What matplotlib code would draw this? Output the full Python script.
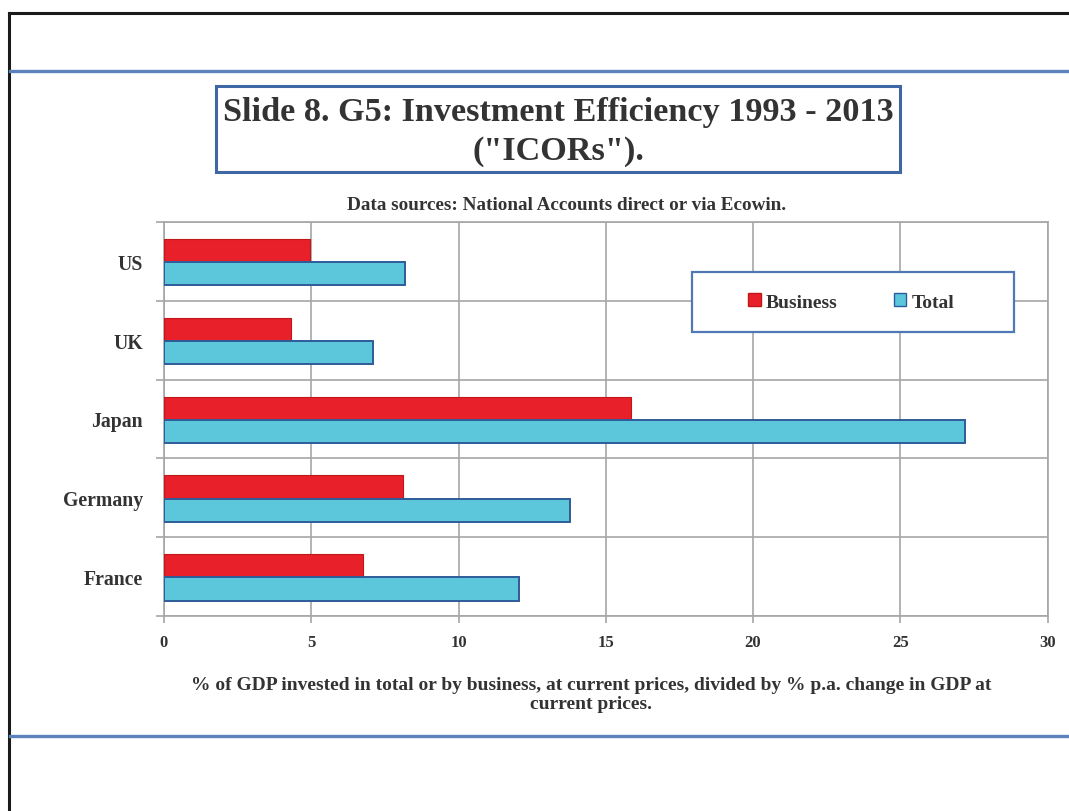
import matplotlib
matplotlib.use("Agg")
import matplotlib.pyplot as plt
from matplotlib.lines import Line2D
from matplotlib.patches import Rectangle, Patch
import numpy as np

# ICORs by country, 1993-2013
countries = ["US", "UK", "Japan", "Germany", "France"]
business = [4.95, 4.3, 15.85, 8.1, 6.75]
total = [8.2, 7.08, 27.2, 13.8, 12.05]
x_ticks = [0, 5, 10, 15, 20, 25, 30]

title_text = 'Slide 8. G5: Investment Efficiency 1993 - 2013\n("ICORs").'
source_text = "Data sources: National Accounts direct or via Ecowin."
xlabel_text = ("% of GDP invested in total or by business, at current prices, "
               "divided by % p.a. change in GDP at\ncurrent prices.")

W, H = 1069, 812
SERIF = ["Liberation Serif", "DejaVu Serif"]
TXT = "#333333"
RED = "#E8202A"
CYAN = "#5CC6DA"
EDGE = "#2E5C9A"
GRID = "#A6A6A6"
FRAME_BLUE = "#5B82BD"

plt.rcParams["font.family"] = SERIF

fig = plt.figure(figsize=(W / 100, H / 100), dpi=100)
fig.patch.set_facecolor("white")


def fx(px):
    return px / W


def fy(py):
    return 1 - py / H


# page frame: black border top and left, blue rules
fig.add_artist(Line2D([fx(9), fx(9)], [fy(14), fy(812)], color="#1a1a1a", lw=2.2))
fig.add_artist(Line2D([fx(9), fx(1069)], [fy(14), fy(14)], color="#1a1a1a", lw=2.2))
fig.add_artist(Line2D([fx(10), fx(1069)], [fy(72), fy(72)], color=FRAME_BLUE, lw=2.4))
fig.add_artist(Line2D([fx(10), fx(1069)], [fy(737), fy(737)], color=FRAME_BLUE, lw=2.4))

# title box
fig.add_artist(Rectangle((fx(216), fy(173)), fx(900) - fx(216), fy(87) - fy(173),
                         transform=fig.transFigure, facecolor="white",
                         edgecolor="#3F67A3", lw=2.2))
fig.text(fx(558), fy(132), title_text, ha="center", va="center",
         fontsize=24.7, fontweight="bold", color=TXT, linespacing=1.33)

fig.text(fx(567), fy(206), source_text, ha="center", va="center",
         fontsize=13.8, fontweight="bold", color=TXT)

ax = fig.add_axes([fx(164), fy(617), fx(1047.5) - fx(164), fy(223) - fy(617)])

y = np.arange(len(countries))
h = 0.295
ax.barh(y - h / 2 + 0.01, business, height=h, color=RED, edgecolor="#C01818",
        lw=0.8, label="Business", zorder=3)
ax.barh(y + h / 2 + 0.01, total, height=h, color=CYAN, edgecolor=EDGE,
        lw=1.4, label="Total", zorder=3)

ax.set_xlim(0, 30)
ax.set_ylim(len(countries) - 0.5, -0.5)
ax.set_xticks(x_ticks)
ax.set_xticklabels([str(v) for v in x_ticks], fontsize=12, fontweight="bold", color=TXT)
ax.set_yticks(y)
ax.set_yticklabels(countries, fontsize=14.2, fontweight="bold", color=TXT)
ax.set_yticks(np.arange(len(countries) + 1) - 0.5, minor=True)
ax.tick_params(axis="y", which="major", length=0, pad=15)
ax.tick_params(axis="y", which="minor", length=6, color=GRID, width=1.2)
ax.tick_params(axis="x", which="major", length=5, color=GRID, width=1.2, pad=8)

ax.grid(axis="x", which="major", color=GRID, lw=1.2, zorder=0)
ax.grid(axis="y", which="minor", color=GRID, lw=1.2, zorder=0)
ax.set_axisbelow(True)
for side in ["top", "right", "bottom", "left"]:
    ax.spines[side].set_color(GRID)
    ax.spines[side].set_linewidth(1.2)

ax.set_xlabel(xlabel_text, fontsize=14, fontweight="bold", color=TXT, labelpad=18,
              linespacing=1.2)
ax.xaxis.set_label_coords((591 - 164) / (1047.5 - 164), -0.152)
ax.xaxis.label.set_va("top")

# legend frame drawn separately so its padding can be wider than tall
ax.add_patch(Rectangle((fx(692), fy(333)), fx(1014) - fx(692), fy(273) - fy(333),
                       transform=fig.transFigure, facecolor="white",
                       edgecolor="#4F78B5", lw=1.6, zorder=4, clip_on=False))
handles = [Patch(facecolor=RED, edgecolor="#C01818", label="Business"),
           Patch(facecolor=CYAN, edgecolor=EDGE, label="Total")]
leg = ax.legend(handles=handles, ncol=2, loc="center",
                bbox_to_anchor=(fx(851), fy(303)), bbox_transform=fig.transFigure,
                prop={"family": SERIF, "weight": "bold", "size": 14},
                frameon=False, handlelength=0.65, handleheight=0.65,
                handletextpad=0.25, columnspacing=2.9, borderpad=0,
                borderaxespad=0)
leg.set_zorder(5)
for t in leg.get_texts():
    t.set_color(TXT)

fig.savefig("out.png", dpi=100, facecolor="white")
